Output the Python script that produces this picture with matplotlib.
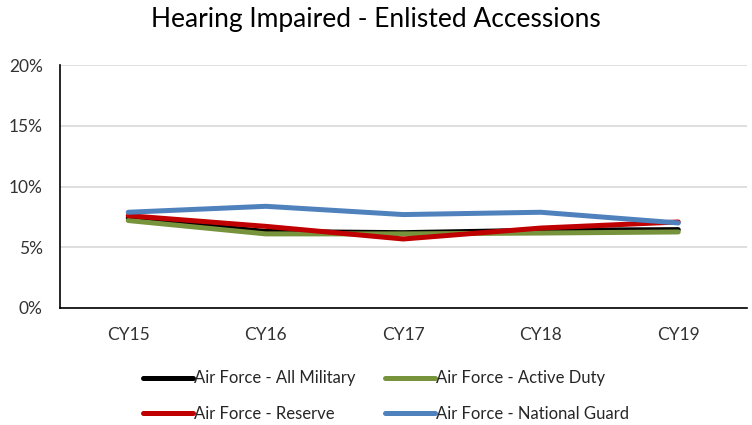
import matplotlib
matplotlib.use("Agg")
import matplotlib.pyplot as plt
from matplotlib.ticker import PercentFormatter

categories = ["CY15", "CY16", "CY17", "CY18", "CY19"]
all_military = [7.4, 6.3, 6.2, 6.4, 6.45]
active_duty = [7.2, 6.1, 6.1, 6.17, 6.26]
reserve = [7.6, 6.72, 5.68, 6.58, 7.08]
national_guard = [7.88, 8.37, 7.69, 7.88, 7.0]

series_names = ["Air Force - All Military", "Air Force - Active Duty",
                "Air Force - Reserve", "Air Force - National Guard"]
series_values = [all_military, active_duty, reserve, national_guard]
colors = ["#000000", "#77933C", "#C00000", "#4F81BD"]
y_ticks = [0, 5, 10, 15, 20]

plt.rcParams['font.family'] = ['Lato', 'DejaVu Sans']

fig = plt.figure(figsize=(7.52, 4.25), dpi=100)
ax = fig.add_axes([59.5/752, 1-308/425, (747-59.5)/752, (308-65)/425])

x = list(range(len(categories)))
handles = []
for name, vals, c in zip(series_names, series_values, colors):
    h, = ax.plot(x, vals, color=c, lw=3.6, solid_capstyle='round',
                 solid_joinstyle='round', label=name)
    handles.append(h)

ax.set_xlim(-0.5, len(categories) - 0.5)
ax.set_ylim(0, 20)
ax.set_yticks(y_ticks)
ax.yaxis.set_major_formatter(PercentFormatter(decimals=0))
ax.set_xticks(x)
ax.set_xticklabels(categories)
ax.tick_params(axis='both', length=0, labelsize=12.5, colors='#333333')
ax.tick_params(axis='y', pad=12)
ax.tick_params(axis='x', pad=14)
ax.grid(axis='y', color='#D9D9D9', lw=1.2)
ax.set_axisbelow(True)
for s in ['top', 'right']:
    ax.spines[s].set_visible(False)
ax.spines['left'].set_color('#000000')
ax.spines['bottom'].set_color('#000000')
ax.spines['left'].set_linewidth(1.2)
ax.spines['bottom'].set_linewidth(1.2)

fig.text(376/752, 1-20/425, "Hearing Impaired - Enlisted Accessions",
         ha='center', va='center', fontsize=19, color='#000000')

# row-major legend order: column 1 = All Military, Reserve; column 2 = Active Duty, National Guard
order = [0, 2, 1, 3]
leg = fig.legend(handles=[handles[i] for i in order], loc='center', ncol=2,
                 bbox_to_anchor=(386/752, 1-396/425), frameon=False,
                 fontsize=12, handlelength=3.0, handletextpad=0.05,
                 columnspacing=1.8, labelspacing=1.15, labelcolor='#262626')

fig.savefig("out.png", dpi=100)
